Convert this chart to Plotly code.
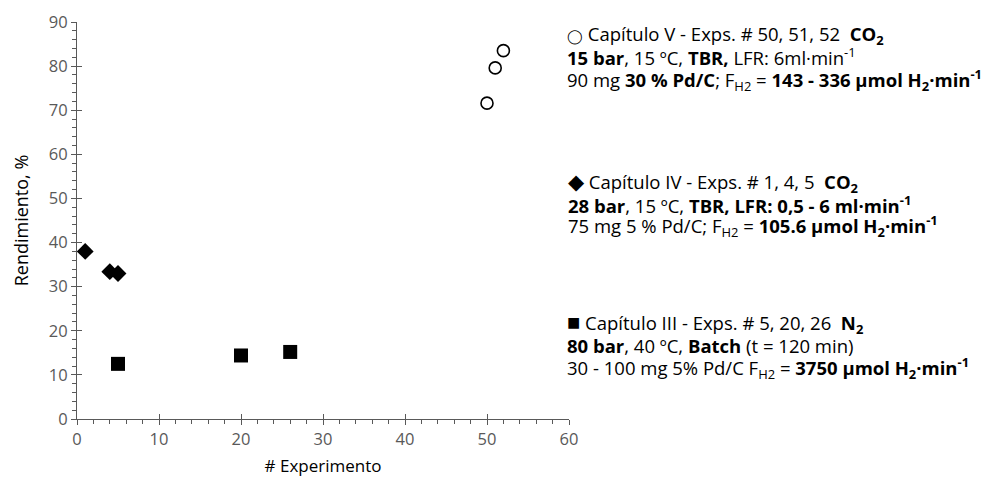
import plotly.graph_objects as go

# Data
cap3_x = [5, 20, 26]
cap3_y = [12.5, 14.4, 15.2]
cap4_x = [1, 4, 5]
cap4_y = [38.0, 33.4, 33.0]
cap5_x = [50, 51, 52]
cap5_y = [71.6, 79.6, 83.5]

x_ticks = [0, 10, 20, 30, 40, 50, 60]
y_ticks = [0, 10, 20, 30, 40, 50, 60, 70, 80, 90]

block5 = [
    "<span style='font-size:14px'>◯</span> Capítulo V - Exps. # 50, 51, 52  <b>CO<sub>2</sub></b>",
    "<b>15 bar</b>, 15 ºC, <b>TBR,</b> LFR: 6ml·min<sup>-1</sup>",
    "90 mg <b>30 % Pd/C</b>; F<sub>H2</sub> = <b>143 - 336 µmol H<sub>2</sub>·min<sup>-1</sup></b>",
]
block4 = [
    "<span style='font-size:21px'>◆</span> Capítulo IV - Exps. # 1, 4, 5  <b>CO<sub>2</sub></b>",
    "<b>28 bar</b>, 15 ºC, <b>TBR, LFR: 0,5 - 6 ml·min<sup>-1</sup></b>",
    "75 mg 5 % Pd/C; F<sub>H2</sub> = <b>105.6 µmol H<sub>2</sub>·min<sup>-1</sup></b>",
]
block3 = [
    "<span style='font-size:22px'>■</span> Capítulo III - Exps. # 5, 20, 26  <b>N<sub>2</sub></b>",
    "<b>80 bar</b>, 40 ºC, <b>Batch</b> (t = 120 min)",
    "30 - 100 mg 5% Pd/C F<sub>H2</sub> = <b>3750 µmol H<sub>2</sub>·min<sup>-1</sup></b>",
]

W, H = 1004, 479
L, R, T, B = 77, 435, 22, 60
pw, ph = W - L - R, H - T - B

FONT = "Open Sans"
fig = go.Figure()
fig.add_trace(go.Scatter(x=cap3_x, y=cap3_y, mode="markers",
                         marker=dict(symbol="square", size=14, color="black"),
                         cliponaxis=False, showlegend=False))
fig.add_trace(go.Scatter(x=cap4_x, y=cap4_y, mode="markers",
                         marker=dict(symbol="diamond", size=13, color="black"),
                         cliponaxis=False, showlegend=False))
fig.add_trace(go.Scatter(x=cap5_x, y=cap5_y, mode="markers",
                         marker=dict(symbol="circle-open", size=12, color="black",
                                     line=dict(width=1.6, color="black")),
                         cliponaxis=False, showlegend=False))

axcol = "#595959"
ann = []
def add_block(lines, ys, x0):
    for txt, py in zip(lines, ys):
        ann.append(dict(text=txt, x=(x0 - L) / pw, y=(H - B - py) / ph,
                        xref="paper", yref="paper", xanchor="left", yanchor="middle",
                        showarrow=False, font=dict(family=FONT, size=18.5, color="black")))

add_block(block5, [35, 57, 80], 565)
add_block(block4, [182, 204, 226], 566)
add_block(block3, [322, 345, 368], 565)

fig.update_layout(
    width=W, height=H,
    margin=dict(l=L, r=R, t=T, b=B, pad=0),
    plot_bgcolor="white", paper_bgcolor="white",
    font=dict(family=FONT, color=axcol, size=14),
    annotations=ann,
    xaxis=dict(range=[0, 60], tickvals=x_ticks, showgrid=False, zeroline=False,
               showline=True, linecolor=axcol, linewidth=1, automargin=False,
               ticks="outside", ticklen=5, tickcolor=axcol,
               minor=dict(ticks="outside", dtick=2, ticklen=4, tickcolor=axcol),
               tickfont=dict(size=16.5, color=axcol),
               title=dict(text="# Experimento", font=dict(size=17, color="black"), standoff=11)),
    yaxis=dict(range=[0, 90], tickvals=y_ticks, showgrid=False, zeroline=False,
               showline=True, linecolor=axcol, linewidth=1, automargin=False,
               ticks="outside", ticklen=5, tickcolor=axcol,
               minor=dict(ticks="outside", dtick=2, ticklen=4, tickcolor=axcol),
               tickfont=dict(size=16.5, color=axcol),
               title=dict(text="Rendimiento, %", font=dict(size=18, color="black"), standoff=15)),
    xaxis2=dict(range=[0, 60], tickvals=x_ticks, overlaying="x", side="bottom",
                showticklabels=False, showgrid=False, zeroline=False, showline=False,
                ticks="inside", ticklen=5, tickcolor=axcol),
    yaxis2=dict(range=[0, 90], tickvals=y_ticks, overlaying="y", side="left",
                showticklabels=False, showgrid=False, zeroline=False, showline=False,
                ticks="inside", ticklen=5, tickcolor=axcol),
)
# invisible trace to activate overlay axes
fig.add_trace(go.Scatter(x=[None], y=[None], xaxis="x2", yaxis="y2", showlegend=False, hoverinfo="skip"))

fig.write_html("out.html", config={"displayModeBar": False},
               post_script="document.body.style.margin='0';")
